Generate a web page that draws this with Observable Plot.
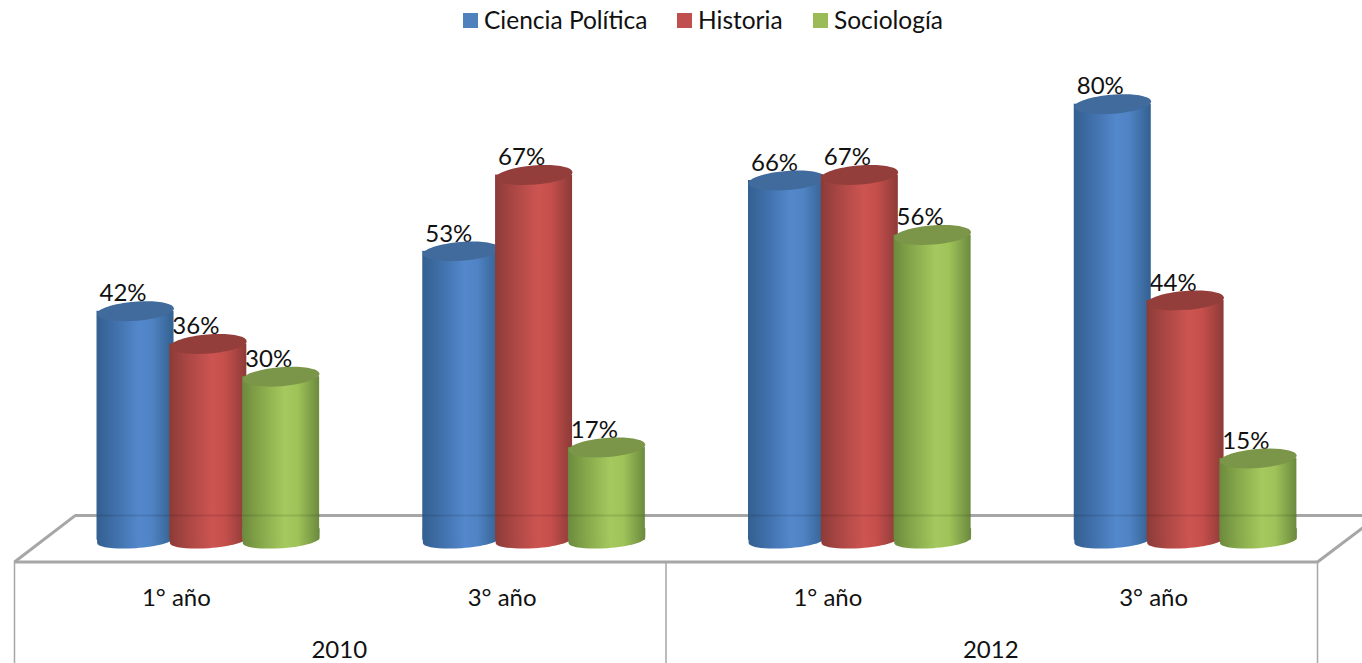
<!DOCTYPE html>
<html>
<head>
<meta charset="utf-8">
<script src="https://cdn.jsdelivr.net/npm/d3@7"></script>
<script src="https://cdn.jsdelivr.net/npm/@observablehq/plot@0.6"></script>
<style>
html,body{margin:0;padding:0;background:#fff;overflow:hidden}
#legend{height:45px;position:relative;font:24.5px Lato,sans-serif;color:#111}
#legend span{position:absolute;top:5px;line-height:30px;white-space:nowrap}
#legend i{position:absolute;top:13px;width:15px;height:15px}
#chart svg{display:block}
</style>
</head>
<body>
<div id="legend"></div>
<div id="chart"></div>
<script>
// Data
const years = ["2010", "2012"];
const courses = ["1° año", "3° año", "1° año", "3° año"];
const seriesNames = ["Ciencia Política", "Historia", "Sociología"];
const cienciaPolitica = [42, 53, 66, 80];
const historia = [36, 67, 67, 44];
const sociologia = [30, 17, 56, 15];
const allSeries = [cienciaPolitica, historia, sociologia];

// Styles
const bodyStops = [
  ["#33608f", "#3f6ea8", "#5388cc", "#4f83c4", "#33608f"],
  ["#8c3b38", "#a84643", "#cc5451", "#c64f4c", "#8c3b38"],
  ["#6c8a3e", "#84a549", "#a5c95e", "#9fc359", "#6c8a3e"]
];
const topColors = ["#406b9c", "#933e3b", "#7b9549"];
const swatches = ["#4f81bd", "#c0504d", "#9bbb59"];
const gridColor = "#a6a6a6";

// Geometry of the 3D frame, in the units of the scales
const shift = 0.095, step = 0.2235, half = 0.1182;
const floorFront = -4.0, floorBack = 4.55, courseY = -10.6, yearY = -20.2;
const depthX = 0.187;

const rotated = (deg) => {
  const t = deg * Math.PI / 180, c = Math.cos(t), s = Math.sin(t);
  return (x, y) => [x * c - y * s, x * s + y * c];
};
const k = 0.5523;
// tilted ellipse: the top face of a cylinder
function topFace(a, b, deg) {
  const p = rotated(deg);
  return {draw(ctx) {
    ctx.moveTo(...p(a, 0));
    ctx.bezierCurveTo(...p(a, k * b), ...p(k * a, b), ...p(0, b));
    ctx.bezierCurveTo(...p(-k * a, b), ...p(-a, k * b), ...p(-a, 0));
    ctx.bezierCurveTo(...p(-a, -k * b), ...p(-k * a, -b), ...p(0, -b));
    ctx.bezierCurveTo(...p(k * a, -b), ...p(a, -k * b), ...p(a, 0));
    ctx.closePath();
  }};
}
// lower half of a tilted ellipse with straight sides: the foot of a cylinder
function footCap(a, b, deg) {
  const p = rotated(deg);
  return {draw(ctx) {
    ctx.moveTo(-a, -b - 4);
    ctx.lineTo(...p(-a, 0));
    ctx.bezierCurveTo(...p(-a, k * b), ...p(-k * a, b), ...p(0, b));
    ctx.bezierCurveTo(...p(k * a, b), ...p(a, k * b), ...p(a, 0));
    ctx.lineTo(a, -b - 4);
    ctx.closePath();
  }};
}
const topSym = topFace(38.5, 9.5, -4.5);
const footSym = footCap(38.5, 8, -4);

const rows = allSeries.map((vals, s) =>
  vals.map((value, g) => ({value, g, s, cx: g + shift + (s - 1) * step})));
const flat = rows.flat();

const defs = () => {
  const d = d3.create("svg:defs");
  bodyStops.forEach((stops, i) => {
    const lg = d.append("linearGradient").attr("id", "g" + i);
    [0, 0.22, 0.55, 0.72, 1].forEach((o, j) =>
      lg.append("stop").attr("offset", o).attr("stop-color", stops[j]));
  });
  return d.node();
};

const font = {fontFamily: "Lato, sans-serif", fill: "#111"};
const gridStroke = {stroke: gridColor};

const plot = Plot.plot({
  width: 1362, height: 618,
  margin: 0,
  x: {type: "linear", domain: [-0.5, 3.5], range: [14, 1317], axis: null},
  y: {type: "linear", domain: [0, 90.77], range: [494.7, 0], axis: null},
  style: {background: "transparent", overflow: "visible"},
  marks: [
    defs,
    // floor and category table
    Plot.ruleY([floorBack], {x1: -0.5 + depthX, x2: 3.64, ...gridStroke, strokeWidth: 3}),
    Plot.ruleY([floorFront], {x1: -0.5, x2: 3.5, ...gridStroke, strokeWidth: 3}),
    Plot.link([0], {x1: () => -0.5, y1: () => floorFront, x2: () => -0.5 + depthX, y2: () => floorBack, ...gridStroke, strokeWidth: 3}),
    Plot.link([0], {x1: () => 3.5, y1: () => floorFront, x2: () => 3.64, y2: () => 2.3, ...gridStroke, strokeWidth: 3}),
    Plot.ruleX([-0.5, 1.5, 3.5], {y1: floorFront, y2: -23, ...gridStroke, strokeWidth: 1.5}),
    // value labels sit behind the cylinders
    Plot.text(flat, {x: "cx", y: "value", text: d => d.value + "%", dx: -12.5, dy: -17.5, fontSize: 24, ...font}),
    // cylinders
    ...rows.flatMap((r, i) => [
      Plot.dot(r, {x: "cx", y: () => 0, r: 1, symbol: footSym, fill: `url(#g${i})`, stroke: "none"}),
      Plot.rect(r, {x1: d => d.cx - half, x2: d => d.cx + half, y1: () => 0, y2: "value", fill: `url(#g${i})`}),
      Plot.link(r, {x1: d => d.cx - half, x2: d => d.cx + half, y1: () => floorBack, y2: () => floorBack, stroke: "#000", strokeOpacity: 0.1, strokeWidth: 2}),
      Plot.dot(r, {x: "cx", y: "value", r: 1, symbol: topSym, fill: topColors[i], stroke: "none"})
    ]),
    // category labels
    Plot.text(courses, {x: (d, i) => i, y: () => courseY, text: d => d, dx: -1, fontSize: 24, ...font}),
    Plot.text(years, {x: (d, i) => 2 * i + 0.5, y: () => yearY, text: d => d, dx: -1, fontSize: 24, ...font})
  ]
});
document.getElementById("chart").append(plot);

// legend above the chart
const legend = document.getElementById("legend");
const legendSwatchX = [463, 677, 813];
seriesNames.forEach((name, i) => {
  const sw = document.createElement("i");
  sw.style.left = legendSwatchX[i] + "px";
  sw.style.background = swatches[i];
  legend.append(sw);
  const t = document.createElement("span");
  t.style.left = (legendSwatchX[i] + 21) + "px";
  t.textContent = name;
  legend.append(t);
});
</script>
</body>
</html>
